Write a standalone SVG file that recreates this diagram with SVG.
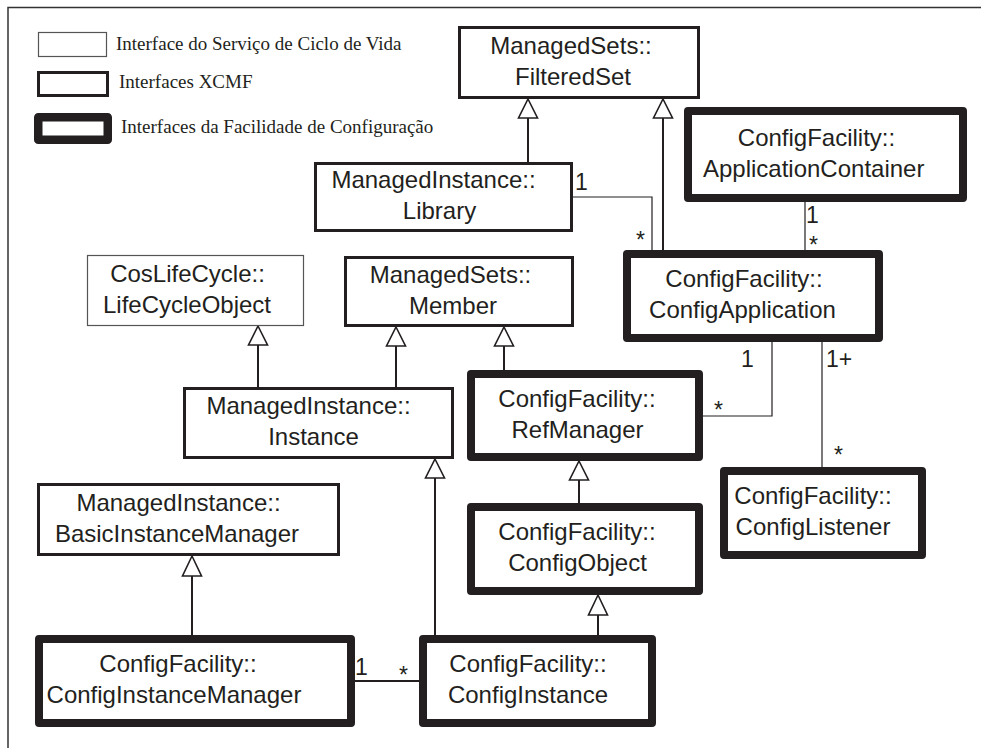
<svg xmlns="http://www.w3.org/2000/svg" width="981" height="748" viewBox="0 0 981 748">
<style>
.bg{fill:#ffffff}
.thin{fill:#fff;stroke:#555;stroke-width:1.2}
.med{fill:#fff;stroke:#231f20;stroke-width:3}
.thick{fill:#fff;stroke:#231f20;stroke-width:8;stroke-linejoin:round}
.t{font-family:"Liberation Sans",Arial,sans-serif;font-size:24px;fill:#231f20;text-anchor:middle}
.lg{font-family:"Liberation Serif","Times New Roman",serif;font-size:19px;fill:#231f20}
.lbl{font-family:"Liberation Sans",Arial,sans-serif;font-size:23px;fill:#231f20}
.inh{fill:none;stroke:#231f20;stroke-width:2}
.tri{fill:#fff;stroke:#231f20;stroke-width:1.6;stroke-linejoin:miter}
.as{fill:none;stroke:#231f20;stroke-width:1.2}
.as2{fill:none;stroke:#231f20;stroke-width:2}
.frame{fill:none;stroke:#333;stroke-width:1.5}
</style>
<rect class="bg" x="0" y="0" width="981" height="748"/>
<path class="frame" d="M8,748 V7.5 H981"/>

<g id="legend">
<rect class="thin" x="38.5" y="32.5" width="68" height="24"/>
<text class="lg" x="116" y="50">Interface do Serviço de Ciclo de Vida</text>
<rect class="med" x="38.5" y="72.5" width="69" height="23"/>
<text class="lg" x="119" y="88">Interfaces XCMF</text>
<rect class="thick" x="38.25" y="117.25" width="69.5" height="22.5" style="stroke-width:8.5"/>
<text class="lg" x="121" y="133">Interfaces da Facilidade de Configuração</text>
</g>

<g id="connectors">
<!-- inheritance -->
<path class="inh" d="M528,162 V118"/>
<path class="tri" d="M528,99 L537.5,118 L518.5,118 Z"/>
<path class="inh" d="M663,250 V118"/>
<path class="tri" d="M663,99 L672.5,118 L653.5,118 Z"/>
<path class="inh" d="M258,387 V345"/>
<path class="tri" d="M258,326 L267.5,345 L248.5,345 Z"/>
<path class="inh" d="M396,387 V346"/>
<path class="tri" d="M396,327 L405.5,346 L386.5,346 Z"/>
<path class="inh" d="M504,370 V346"/>
<path class="tri" d="M504,327 L513.5,346 L494.5,346 Z"/>
<path class="inh" d="M435,635 V478"/>
<path class="tri" d="M435,459 L444.5,478 L425.5,478 Z"/>
<path class="inh" d="M579,503 V480"/>
<path class="tri" d="M579,461 L588.5,480 L569.5,480 Z"/>
<path class="inh" d="M598,635 V615"/>
<path class="tri" d="M598,595 L607.5,615 L588.5,615 Z"/>
<path class="inh" d="M192,635 V576"/>
<path class="tri" d="M192,556 L201.5,576 L182.5,576 Z"/>
<!-- associations -->
<path class="as" d="M573,197 H652 V250"/>
<text class="lbl" x="575" y="190">1</text>
<text class="lbl" x="636" y="248">*</text>
<path class="as" d="M805,202 V250"/>
<text class="lbl" x="806" y="223">1</text>
<text class="lbl" x="809" y="253">*</text>
<path class="as" d="M772,342 V416 H703"/>
<text class="lbl" x="741" y="367">1</text>
<text class="lbl" x="714" y="418">*</text>
<path class="as" d="M822,342 V467"/>
<text class="lbl" x="826" y="367">1+</text>
<text class="lbl" x="834" y="463">*</text>
<path class="as2" d="M355,681 H419"/>
<text class="lbl" x="355" y="675">1</text>
<text class="lbl" x="399" y="683">*</text>
</g>

<g id="FilteredSet">
<rect class="med" x="459.5" y="27.5" width="239" height="70"/>
<text class="t" x="571" y="53.5">ManagedSets::</text>
<text class="t" x="573" y="84.5">FilteredSet</text>
</g>
<g id="ApplicationContainer">
<rect class="thick" x="688" y="111" width="275" height="87"/>
<text class="t" x="816.5" y="145.5">ConfigFacility::</text>
<text class="t" x="813.7" y="176.5">ApplicationContainer</text>
</g>
<g id="Library">
<rect class="med" x="315.5" y="163.5" width="256" height="67"/>
<text class="t" x="433.5" y="188">ManagedInstance::</text>
<text class="t" x="439.5" y="219">Library</text>
</g>
<g id="ConfigApplication">
<rect class="thick" x="627" y="254" width="252" height="84"/>
<text class="t" x="744" y="287">ConfigFacility::</text>
<text class="t" x="742.5" y="318">ConfigApplication</text>
</g>
<g id="LifeCycleObject">
<rect class="thin" x="87.5" y="255.5" width="216" height="70"/>
<text class="t" x="187.5" y="281.5">CosLifeCycle::</text>
<text class="t" x="187" y="312.5">LifeCycleObject</text>
</g>
<g id="Member">
<rect class="med" x="345.5" y="257.5" width="227" height="68"/>
<text class="t" x="450.5" y="282.5">ManagedSets::</text>
<text class="t" x="453" y="313.5">Member</text>
</g>
<g id="Instance">
<rect class="med" x="184.5" y="388.5" width="268" height="69"/>
<text class="t" x="308.5" y="414">ManagedInstance::</text>
<text class="t" x="313.5" y="445">Instance</text>
</g>
<g id="RefManager">
<rect class="thick" x="471" y="374" width="228" height="83"/>
<text class="t" x="577" y="406.5">ConfigFacility::</text>
<text class="t" x="577.5" y="437.5">RefManager</text>
</g>
<g id="ConfigObject">
<rect class="thick" x="471" y="507" width="228" height="84"/>
<text class="t" x="577" y="540">ConfigFacility::</text>
<text class="t" x="577.5" y="571">ConfigObject</text>
</g>
<g id="ConfigInstance">
<rect class="thick" x="423" y="639" width="229" height="84"/>
<text class="t" x="528" y="672">ConfigFacility::</text>
<text class="t" x="528" y="703">ConfigInstance</text>
</g>
<g id="BasicInstanceManager">
<rect class="med" x="38.5" y="484.5" width="300" height="70"/>
<text class="t" x="178.5" y="510.5">ManagedInstance::</text>
<text class="t" x="177" y="541.5">BasicInstanceManager</text>
</g>
<g id="ConfigInstanceManager">
<rect class="thick" x="39" y="639" width="312" height="84"/>
<text class="t" x="178" y="672">ConfigFacility::</text>
<text class="t" x="174" y="703">ConfigInstanceManager</text>
</g>
<g id="ConfigListener">
<rect class="thick" x="724" y="471" width="198" height="84"/>
<text class="t" x="813" y="504">ConfigFacility::</text>
<text class="t" x="813" y="535">ConfigListener</text>
</g>
</svg>
